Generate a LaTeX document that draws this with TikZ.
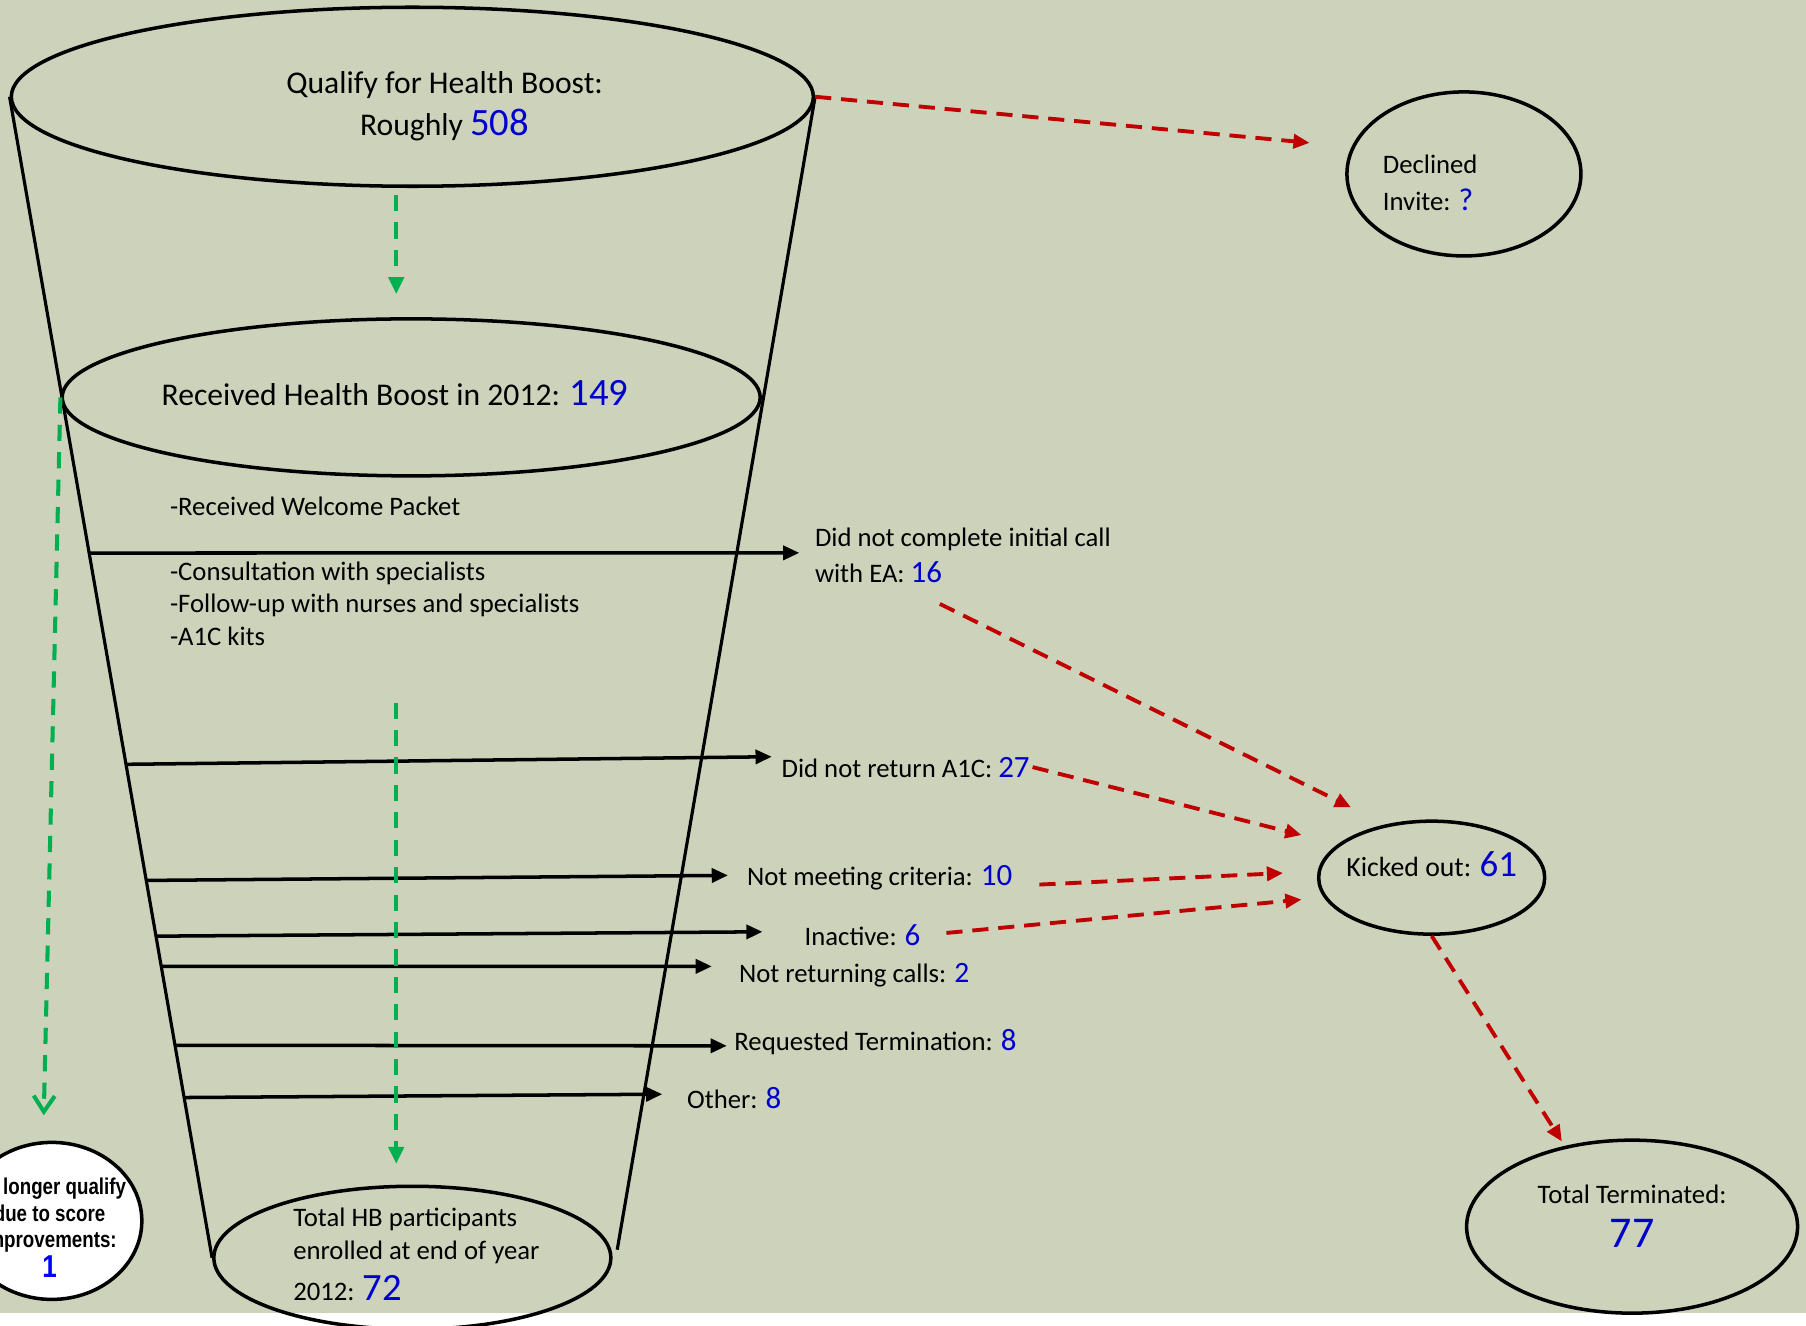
\documentclass[tikz,border=0pt]{standalone}
\usepackage{fontspec}
\setmainfont{Carlito}
\newfontfamily\narrowfont[FakeStretch=0.82]{Liberation Sans}
\usetikzlibrary{positioning,shapes.geometric,arrows.meta,calc}
\definecolor{bgsage}{HTML}{CDD2BB}
\definecolor{numblue}{HTML}{0000CC}
\definecolor{dropred}{HTML}{C00000}
\definecolor{flowgreen}{HTML}{00B050}
\newcommand{\cnt}[2]{{\fontsize{#1}{#1}\selectfont\color{numblue}#2}}

\begin{document}
\begin{tikzpicture}[x=0.11518mm, y=-0.11518mm,
    stage/.style={ellipse, draw=black, line width=1pt, inner sep=0pt},
    body/.style={font=\fontsize{7.6}{9.2}\selectfont, inner sep=0pt, align=left},
    exit/.style={-{Triangle[length=4.6pt,width=4pt]}, line width=1pt},
    drop/.style={-{Triangle[length=4.6pt,width=4pt]}, dropred, line width=1.1pt, dash pattern=on 4.6pt off 2.8pt},
    stay/.style={-{Triangle[length=4.8pt,width=4.3pt]}, flowgreen, line width=1.15pt, dash pattern=on 4.6pt off 3.2pt}]
  \useasboundingbox (0,0) rectangle (1568,1151);
  \fill[bgsage] (0,0) rectangle (1568,1140);

  % funnel levels
  \node[stage, minimum width=80.2mm, minimum height=17.9mm] (top) at (358,84) {};
  \node[stage, minimum width=69.8mm, minimum height=15.7mm] (received) at (357,345) {};
  \node[stage, minimum width=39.7mm, minimum height=14.3mm] (enrolled) at (358,1092) {};
  \draw[line width=0.9pt] (top.west) -- (enrolled.west);
  \draw[line width=0.9pt] (top.east) -- ($(enrolled.east)+(4,-7)$);

  % side outcomes
  \node[stage, fill=white, minimum width=18mm, minimum height=15.7mm] (noqual) at (45,1060) {};
  \node[stage, minimum width=23.4mm, minimum height=16.4mm] (declined) at (1271,151) {};
  \node[stage, minimum width=22.6mm, minimum height=11.3mm] (kicked) at (1243,762) {};
  \node[stage, minimum width=33.1mm, minimum height=17.3mm] (total) at (1417,1065) {};

  % texts
  \node[font=\fontsize{9}{12}\selectfont, align=center, inner sep=0pt] (toptxt) at (386,92)
    {Qualify for Health Boost:\\Roughly \cnt{11}{508}};
  \node[font=\fontsize{9}{12}\selectfont, inner sep=0pt] (rectxt) at (343,341)
    {Received Health Boost in 2012: \cnt{11}{149}};
  \node[body, anchor=west] (welcome) at (147,440) {-Received Welcome Packet};
  \node[body, anchor=west] (services) at (147,524)
    {-Consultation with specialists\\-Follow-up with nurses and specialists\\-A1C kits};
  \node[body, anchor=west] (enrtxt) at (254,1089)
    {Total HB participants\\enrolled at end of year\\[2.5pt]2012: \cnt{11}{72}};
  \node[font=\narrowfont\bfseries\fontsize{6.5}{7.5}\selectfont, align=center, inner sep=0pt] (noqtxt) at (43,1066)
    {No longer qualify\\due to score\\improvements:\\{\fontsize{9}{9}\selectfont\color{blue}1}};
  \node[body, font=\fontsize{7.6}{10.5}\selectfont, anchor=west] (dectxt) at (1200,159)
    {Declined\\Invite: \cnt{9}{?}};
  \node[font=\fontsize{7.9}{10}\selectfont, inner sep=0pt] (kicktxt) at (1243,750)
    {Kicked out: \cnt{10.5}{61}};
  \node[font=\fontsize{7.6}{12.4}\selectfont, align=center, inner sep=0pt] (totaltxt) at (1417,1056)
    {Total Terminated:\\\cnt{12.5}{77}};

  % exit labels
  \node[body, font=\fontsize{7.6}{10.2}\selectfont, anchor=west] (lbl16) at (707,482)
    {Did not complete initial call\\with EA: \cnt{8.8}{16}};
  \node[body, anchor=west] (lbl27) at (678,666) {Did not return A1C: \cnt{8.8}{27}};
  \node[body, anchor=west] (lbl10) at (648,762) {Not meeting criteria: \cnt{8.8}{10}};
  \node[body, anchor=west] (lbl6) at (698,812) {Inactive: \cnt{8.8}{6}};
  \node[body, anchor=west] (lbl2) at (641,847) {Not returning calls: \cnt{8.4}{2}};
  \node[body, anchor=west] (lblreq) at (637,905) {Requested Termination: \cnt{8.8}{8}};
  \node[body, anchor=west] (lblother) at (596,953) {Other: \cnt{8.8}{8}};

  % taps on the funnel wall
  \coordinate (tap16) at ($(top.west)!0.393!(enrolled.west)$);
  \coordinate (tap27) at ($(top.west)!0.575!(enrolled.west)$);
  \coordinate (tap10) at ($(top.west)!0.675!(enrolled.west)$);
  \coordinate (tap6) at ($(top.west)!0.723!(enrolled.west)$);
  \coordinate (tap2) at ($(top.west)!0.749!(enrolled.west)$);
  \coordinate (tapreq) at ($(top.west)!0.817!(enrolled.west)$);
  \coordinate (tapother) at ($(top.west)!0.862!(enrolled.west)$);

  \draw[exit] (tap16) -- ($(lbl16.west)+(-13,-2)$);
  \draw[exit] (tap27) -- ($(lbl27.west)+(-8,-9)$);
  \draw[exit] (tap10) -- ($(lbl10.west)+(-16,-2)$);
  \draw[exit] (tap6) -- ($(lbl6.west)+(-36,-3)$);
  \draw[exit] (tap2) -- ($(lbl2.west)+(-23,-8)$);
  \draw[exit] (tapreq) -- ($(lblreq.west)+(-6,3)$);
  \draw[exit] (tapother) -- ($(lblother.west)+(-21,-3)$);

  % red: dropping out
  \draw[drop] (top.east) -- ($(declined)+(-134,-27)$);
  \draw[drop] ($(lbl16.south)+(-20,18)$) -- ($(kicked)+(-70,-61)$);
  \draw[drop] ($(lbl27.east)+(2,0)$) -- ($(kicked)+(-113,-37)$);
  \draw[drop] ($(lbl10.east)+(23,6)$) -- ($(kicked)+(-129,-4)$);
  \draw[drop] ($(lbl6.east)+(22,-2)$) -- ($(kicked)+(-113,19)$);
  \draw[drop] (kicked.south) -- ($(total)+(-61,-74)$);

  % green: staying in
  \coordinate (midtap) at (344,610);
  \draw[stay] ($(top.south)+(-14,6)$) -- ($(received.north)+(-13,-20)$);
  \draw[stay] (midtap) -- ($(enrolled.north)+(-14,-18)$);
  \draw[stay, -{Straight Barb[length=4.5pt,width=6pt]}] (received.west) -- ($(noqual.north)+(-7,-22)$);
\end{tikzpicture}
\end{document}
